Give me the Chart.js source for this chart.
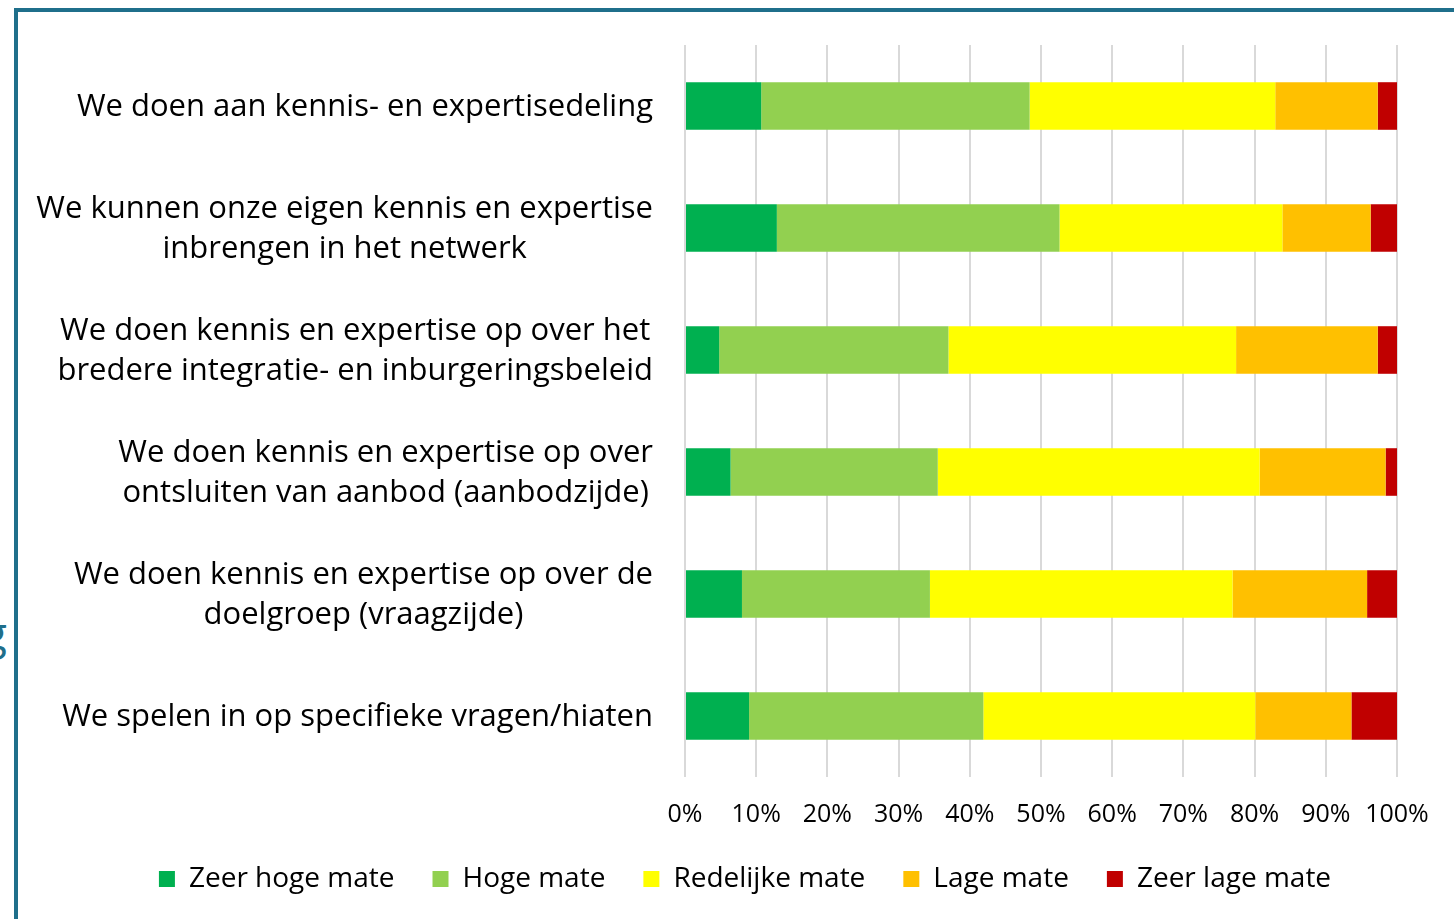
<!DOCTYPE html>
<html>
<head>
<meta charset="utf-8">
<script src="https://cdn.jsdelivr.net/npm/chart.js@4"></script>
<style>
  html, body { margin: 0; padding: 0; background: #fff; overflow: hidden; }
  body { width: 1454px; height: 919px; position: relative; font-family: 'Open Sans', sans-serif; }
  #frame { position: absolute; left: 14px; top: 8px; width: 1460px; height: 930px;
           border-left: 4px solid #1F6F8B; border-top: 4px solid #1F6F8B; }
  #wrap { position: absolute; left: 18px; top: 12px; width: 1436px; height: 907px; }
  #cut { position: absolute; left: -17px; top: 610px; font-size: 44px; color: #1F6F8B; line-height: 1; }
</style>
</head>
<body>
<div id="cut">g</div>
<div id="frame"></div>
<div id="wrap"><canvas id="c" width="1436" height="907"></canvas></div>
<script>
const categories = [
  ["We doen aan kennis- en expertisedeling"],
  ["We kunnen onze eigen kennis en expertise", "inbrengen in het netwerk"],
  ["We doen kennis en expertise op over het", "bredere integratie- en inburgeringsbeleid"],
  ["We doen kennis en expertise op over", "ontsluiten van aanbod (aanbodzijde)"],
  ["We doen kennis en expertise op over de", "doelgroep (vraagzijde)"],
  ["We spelen in op specifieke vragen/hiaten"]
];
const seriesNames = ["Zeer hoge mate", "Hoge mate", "Redelijke mate", "Lage mate", "Zeer lage mate"];
const seriesColors = ["#00B050", "#92D050", "#FFFF00", "#FFC000", "#C00000"];
const zeerHoge  = [10.7, 12.9, 4.8, 6.4, 8.0, 9.0];
const hoge      = [37.7, 39.7, 32.2, 29.1, 26.4, 32.9];
const redelijke = [34.5, 31.3, 40.4, 45.2, 42.5, 38.2];
const lage      = [14.4, 12.4, 19.9, 17.7, 18.9, 13.5];
const zeerLage  = [2.7, 3.7, 2.7, 1.6, 4.2, 6.4];
const seriesValues = [zeerHoge, hoge, redelijke, lage, zeerLage];
const tickValues = [0, 10, 20, 30, 40, 50, 60, 70, 80, 90, 100];

const FONT = "'Open Sans', sans-serif";
const LABEL_SIZE = 31;
const LABEL_LINE = 40;

const yLabelPlugin = {
  id: 'yLabels',
  afterDraw(chart) {
    const ctx = chart.ctx;
    const ys = chart.scales.y;
    const rightEdge = ys.right - 32;
    ctx.save();
    ctx.font = LABEL_SIZE + "px " + FONT;
    ctx.fillStyle = "#000";
    ctx.textAlign = "center";
    ctx.textBaseline = "middle";
    categories.forEach((lines, i) => {
      const yc = ys.getPixelForValue(i);
      const maxW = Math.max(...lines.map(l => ctx.measureText(l).width));
      const cx = rightEdge - maxW / 2;
      lines.forEach((l, j) => {
        ctx.fillText(l, cx, yc + 1 + (j - (lines.length - 1) / 2) * LABEL_LINE);
      });
    });
    ctx.restore();
  }
};

new Chart(document.getElementById('c'), {
  type: 'bar',
  data: {
    labels: categories.map(c => c.join(' ')),
    datasets: seriesNames.map((n, k) => ({
      label: n,
      data: seriesValues[k],
      backgroundColor: seriesColors[k],
      borderWidth: 0,
      barPercentage: 0.39,
      categoryPercentage: 1.0
    }))
  },
  options: {
    indexAxis: 'y',
    responsive: false,
    animation: false,
    events: [],
    layout: { padding: { left: 75, right: 57, top: 33, bottom: 16 } },
    scales: {
      x: {
        stacked: true,
        min: 0, max: 100,
        afterBuildTicks(scale) { scale.ticks = tickValues.map(v => ({ value: v })); },
        afterFit(scale) { scale.height = 50; },
        grid: { color: '#D9D9D9', lineWidth: 2, drawTicks: false },
        border: { display: false },
        ticks: {
          padding: 23,
          color: '#000',
          font: { family: FONT, size: 25 },
          callback: v => v + '%',
          maxRotation: 0, autoSkip: false
        }
      },
      y: {
        stacked: true,
        afterFit(scale) { scale.width = 592; },
        grid: { display: false, drawTicks: false },
        border: { display: false },
        ticks: { display: false }
      }
    },
    plugins: {
      legend: {
        position: 'bottom',
        labels: {
          boxWidth: 16, boxHeight: 16, padding: 38,
          color: '#000',
          font: { family: FONT, size: 28 }
        }
      },
      tooltip: { enabled: false }
    }
  },
  plugins: [yLabelPlugin]
});
</script>
</body>
</html>
